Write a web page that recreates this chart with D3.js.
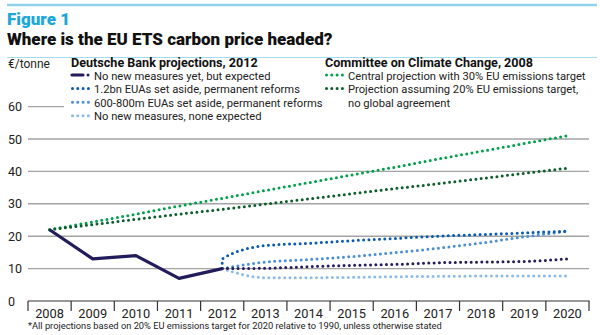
<!DOCTYPE html>
<html>
<head>
<meta charset="utf-8">
<script src="https://cdn.jsdelivr.net/npm/d3@7"></script>
<style>
  body { margin: 0; background: #fff; }
  svg { display: block; font-family: Roboto, "Noto Sans", sans-serif; }
</style>
</head>
<body>
<script>
// years on the x axis
const years = [2008, 2009, 2010, 2011, 2012, 2013, 2014, 2015, 2016, 2017, 2018, 2019, 2020];
const yTicks = [0, 10, 20, 30, 40, 50, 60];

// Deutsche Bank projections, 2012  ([year, €/tonne])
const history = [[2008, 22], [2009, 13], [2010, 14], [2011, 7], [2012, 10]];
const expectedMeasures = [[2012, 10], [2013, 10.1], [2014, 10.6], [2015, 11], [2016, 11.3], [2017, 11.8], [2018, 12], [2019, 12.2], [2020, 13]];
const setAside12bn = [[2012, 10], [2012, 13], [2013, 17.1], [2014, 17.8], [2015, 18.6], [2016, 19.3], [2017, 20], [2018, 20.5], [2019, 21], [2020, 21.6]];
const setAside600m = [[2012, 10], [2013, 12], [2014, 12.8], [2015, 13.7], [2016, 14.9], [2017, 16.3], [2018, 17.9], [2019, 19.8], [2020, 21.5]];
const noMeasures = [[2012, 10], [2013, 7.2], [2014, 7.2], [2015, 7.3], [2016, 7.5], [2017, 7.6], [2018, 7.7], [2019, 7.7], [2020, 7.7]];

// Committee on Climate Change, 2008
const central30 = [[2008, 22], [2009, 24.4], [2010, 26.8], [2011, 29.3], [2012, 31.7], [2013, 34.1], [2014, 36.5], [2015, 38.9], [2016, 41.3], [2017, 43.8], [2018, 46.2], [2019, 48.6], [2020, 51]];
const target20 = [[2008, 22], [2009, 23.6], [2010, 25.2], [2011, 26.8], [2012, 28.3], [2013, 29.9], [2014, 31.5], [2015, 33.1], [2016, 34.7], [2017, 36.2], [2018, 37.8], [2019, 39.4], [2020, 41]];

const W = 600, H = 335;
const svg = d3.select('body').append('svg')
  .attr('width', W)
  .attr('height', H);

const x = d3.scaleBand().domain(years).range([28, 589]);
const y = d3.scaleLinear().domain([0, 60]).range([301, 106.6]);
const cx = (yr) => x(yr) + x.bandwidth() / 2;

// header
svg.append('line')
  .attr('x1', 7).attr('x2', 597).attr('y1', 5).attr('y2', 5)
  .attr('stroke', '#8fd4ec').attr('stroke-width', 2.5);
svg.append('text')
  .attr('x', 7).attr('y', 25)
  .attr('fill', '#1ba7da')
  .style('font-size', '17px').style('font-weight', 900)
  .text('Figure 1');
svg.append('text')
  .attr('x', 7).attr('y', 45)
  .attr('fill', '#111')
  .style('font-size', '17px').style('font-weight', 900)
  .text('Where is the EU ETS carbon price headed?');
svg.append('line')
  .attr('x1', 7).attr('x2', 597).attr('y1', 57.5).attr('y2', 57.5)
  .attr('stroke', '#a6dcef').attr('stroke-width', 1);

svg.append('text')
  .attr('x', 8).attr('y', 68)
  .attr('fill', '#222').style('font-size', '12px')
  .text('€/tonne');

// gridlines; the top one stops short of the legend
svg.append('g').selectAll('line')
  .data(yTicks.filter(d => d > 0))
  .join('line')
  .attr('x1', 28)
  .attr('x2', d => d === 60 ? 64 : 589)
  .attr('y1', d => y(d)).attr('y2', d => y(d))
  .attr('stroke', '#a3a3a3').attr('stroke-width', 1.4);

svg.append('g').selectAll('text')
  .data(yTicks)
  .join('text')
  .attr('x', 8)
  .attr('y', d => y(d) + 4.5)
  .attr('fill', '#222').style('font-size', '12.5px')
  .text(d => d);

// x axis: ticks sit on the band edges, labels in the middle
svg.append('line')
  .attr('x1', 28).attr('x2', 589.5).attr('y1', 301).attr('y2', 301)
  .attr('stroke', '#333').attr('stroke-width', 1.2);
svg.append('g').selectAll('line')
  .data(years.concat(['end']))
  .join('line')
  .attr('x1', d => d === 'end' ? 589 : x(d))
  .attr('x2', d => d === 'end' ? 589 : x(d))
  .attr('y1', 301).attr('y2', 311)
  .attr('stroke', '#333').attr('stroke-width', 1.2);
svg.append('g').selectAll('text')
  .data(years)
  .join('text')
  .attr('x', d => cx(d))
  .attr('y', 317.5)
  .attr('text-anchor', 'middle')
  .attr('fill', '#222').style('font-size', '12.8px')
  .text(d => d);

svg.append('text')
  .attr('x', 28).attr('y', 328.5)
  .attr('fill', '#222').style('font-size', '9.3px')
  .text('*All projections based on 20% EU emissions target for 2020 relative to 1990, unless otherwise stated');

// series
const line = d3.line()
  .x(d => cx(d[0]))
  .y(d => y(d[1]))
  .curve(d3.curveMonotoneX);

const dotted = [
  { data: central30, color: '#00a04b' },
  { data: target20, color: '#0b5e2c' },
  { data: noMeasures, color: '#8bbbe8' },
  { data: setAside600m, color: '#4a8fd6' },
  { data: setAside12bn, color: '#0a5bb0' },
  { data: expectedMeasures, color: '#221c5a' }
];

svg.append('g').selectAll('path')
  .data(dotted)
  .join('path')
  .attr('d', d => line(d.data))
  .attr('fill', 'none')
  .attr('stroke', d => d.color)
  .attr('stroke-width', 3)
  .attr('stroke-linecap', 'round')
  .attr('stroke-dasharray', '0 5.3');

svg.append('path')
  .attr('d', d3.line().x(d => cx(d[0])).y(d => y(d[1]))(history))
  .attr('fill', 'none')
  .attr('stroke', '#221c5a')
  .attr('stroke-width', 3.2)
  .attr('stroke-linejoin', 'round');

// legends
const legendDB = [
  { label: 'No new measures yet, but expected', color: '#221c5a', solid: true },
  { label: '1.2bn EUAs set aside, permanent reforms', color: '#0a5bb0' },
  { label: '600-800m EUAs set aside, permanent reforms', color: '#4a8fd6' },
  { label: 'No new measures, none expected', color: '#8bbbe8' }
];
const legendCCC = [
  { label: ['Central projection with 30% EU emissions target'], color: '#00a04b' },
  { label: ['Projection assuming 20% EU emissions target,', 'no global agreement'], color: '#0b5e2c' }
];

function legend(gx, title, items) {
  const g = svg.append('g').attr('transform', `translate(${gx},0)`);
  g.append('text')
    .attr('x', 0).attr('y', 66.5)
    .attr('fill', '#111')
    .style('font-size', '12.6px').style('font-weight', 700)
    .text(title);
  let row = 0;
  items.forEach(it => {
    const yy = 79 + row * 13.6 - 4;
    if (it.solid) {
      g.append('line')
        .attr('x1', 1).attr('x2', 12).attr('y1', yy).attr('y2', yy)
        .attr('stroke', it.color).attr('stroke-width', 3.2)
        .attr('stroke-linecap', 'round');
      g.append('circle').attr('cx', 17).attr('cy', yy).attr('r', 1.5).attr('fill', it.color);
    } else {
      g.append('line')
        .attr('x1', 1.5).attr('x2', 18).attr('y1', yy).attr('y2', yy)
        .attr('stroke', it.color).attr('stroke-width', 3)
        .attr('stroke-linecap', 'round')
        .attr('stroke-dasharray', '0 5.3');
    }
    const labels = Array.isArray(it.label) ? it.label : [it.label];
    labels.forEach((t, i) => {
      g.append('text')
        .attr('x', 23).attr('y', 79.5 + (row + i) * 13.6)
        .attr('fill', '#222').style('font-size', '11.2px')
        .text(t);
    });
    row += labels.length;
  });
}

legend(71, 'Deutsche Bank projections, 2012', legendDB);
legend(325, 'Committee on Climate Change, 2008', legendCCC);
</script>
</body>
</html>
